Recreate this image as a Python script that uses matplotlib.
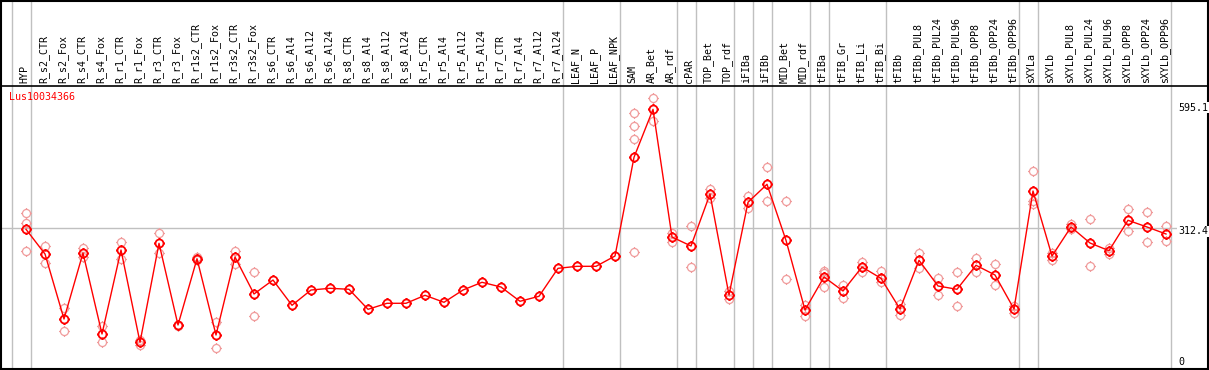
from matplotlib import pyplot as plt
from matplotlib.path import Path

title = "Lus10034366"

labels = ["HYP", "R_s2_CTR", "R_s2_Fox", "R_s4_CTR", "R_s4_Fox", "R_r1_CTR", "R_r1_Fox",
          "R_r3_CTR", "R_r3_Fox", "R_r1s2_CTR", "R_r1s2_Fox", "R_r3s2_CTR", "R_r3s2_Fox",
          "R_s6_CTR", "R_s6_Al4", "R_s6_Al12", "R_s6_Al24", "R_s8_CTR", "R_s8_Al4",
          "R_s8_Al12", "R_s8_Al24", "R_r5_CTR", "R_r5_Al4", "R_r5_Al12", "R_r5_Al24",
          "R_r7_CTR", "R_r7_Al4", "R_r7_Al12", "R_r7_Al24", "LEAF_N", "LEAF_P", "LEAF_NPK",
          "SAM", "AR_Bet", "AR_rdf", "cPAR", "TOP_Bet", "TOP_rdf", "iFIBa", "iFIBb",
          "MID_Bet", "MID_rdf", "tFIBa", "tFIB_Gr", "tFIB_Li", "tFIB_Bi", "tFIBb",
          "tFIBb_PUL8", "tFIBb_PUL24", "tFIBb_PUL96", "tFIBb_OPP8", "tFIBb_OPP24",
          "tFIBb_OPP96", "sXYLa", "sXYLb", "sXYLb_PUL8", "sXYLb_PUL24", "sXYLb_PUL96",
          "sXYLb_OPP8", "sXYLb_OPP24", "sXYLb_OPP96"]

# mean expression per sample
means = [310.1, 252.2, 100.0, 254.6, 64.9, 261.6, 45.4, 277.3, 86.0, 241.2, 62.5, 245.2, 158.6,
         191.3, 132.1, 167.9, 171.9, 169.6, 122.7, 136.8, 136.8, 155.5, 139.1, 167.9, 186.0,
         174.9, 141.5, 153.2, 218.7, 223.4, 223.4, 247.5,
         478.7, 591.1, 292.0, 271.0, 392.8, 156.2, 373.3, 415.5, 284.3, 121.1,
         198.4, 165.6, 221.8, 195.3, 123.4, 237.5, 177.3, 169.6, 225.8, 203.1, 123.4,
         399.8, 247.5, 315.5, 278.0, 260.0, 331.2, 315.5, 299.1]

# replicate values per sample
reps = [[347.6, 324.1, 259.3], [271.0, 230.5], [126.5, 71.9], [267.0, 244.5], [84.3, 45.4],
        [280.3, 241.2], [50.8, 39.1], [300.7, 255.3], [87.1, 83.6], [245.2, 238.2],
        [93.0, 31.4], [259.3, 228.8], [209.4, 107.0],
        [], [], [], [], [], [], [], [], [], [], [], [], [], [], [], [], [], [], [],
        [581.8, 551.3, 520.9, 256.2], [616.9, 564.4], [302.1, 279.6], [317.8, 221.8],
        [403.8, 382.7], [165.6, 146.1], [388.8, 359.3], [455.3, 377.1], [375.7, 193.0],
        [132.8, 107.7], [212.4, 208.4, 174.9], [179.6, 149.9], [234.2, 209.4],
        [211.7, 186.7], [135.8, 108.7], [254.6, 218.7], [195.3, 156.2], [209.4, 129.7],
        [242.9, 209.4], [228.8, 179.6], [131.2, 113.4], [446.6, 377.1, 369.3],
        [255.3, 238.2], [321.8, 310.1], [334.2, 223.4], [267.0, 251.5], [357.6, 305.4],
        [350.6, 279.6], [317.8, 282.0]]

group_sizes = [1, 28, 3, 3, 1, 2, 1, 1, 2, 1, 3, 7, 1, 7]
ref_ticks = [595.1, 312.4, 0]

mono = "DejaVu Sans Mono"
grey = "#c0c0c0"

# circle marker with small tick stubs
stub = 1.35
circ = Path.unit_circle()
stubs = Path([(0, 1), (0, stub), (0, -1), (0, -stub), (1, 0), (stub, 0), (-1, 0), (-stub, 0)],
             [Path.MOVETO, Path.LINETO] * 4)
marker = Path.make_compound_path(circ, stubs)

fig = plt.figure(figsize=(12.09, 3.70), dpi=100)
ax = fig.add_axes([1 / 1209, 1 / 370, 1207 / 1209, 368 / 370])
ax.set_xlim(-25 / 19, -25 / 19 + 1207 / 19)
ax.set_ylim(-17.1, 844.8)
ax.set_xticks([])
ax.set_yticks([])
for s in ax.spines.values():
    s.set_linewidth(1.5)
    s.set_color("black")

# group separators
b = -1
ax.axvline(b + 0.25, color=grey, lw=1, zorder=1)
for g in group_sizes:
    b += g
    ax.axvline(b + 0.25, color=grey, lw=1, zorder=1)

ax.axhline(312.4, color=grey, lw=1, zorder=1)
ax.axhline(646.4, color="black", lw=1.2, zorder=1)

xs = list(range(len(labels)))
for i, r in enumerate(reps):
    if r:
        ax.plot([i] * len(r), r, linestyle="none", marker=marker, markersize=7.8,
                markerfacecolor="none", markeredgecolor="#f09c9c", markeredgewidth=0.9, zorder=2)

ax.plot(xs, means, color="red", lw=1, zorder=3)
ax.plot(xs, means, linestyle="none", marker=marker, markersize=7.8, markerfacecolor="none",
        markeredgecolor="red", markeredgewidth=1.3, zorder=4)

for i, lab in enumerate(labels):
    ax.text(i - 0.08, 652.7, lab, rotation=90, ha="center", va="bottom",
            family=mono, fontsize=7.2, color="black")

ax.text(-0.9, 619.9, title, ha="left", va="center", family=mono, fontsize=7.2, color="red")

for t in ref_ticks:
    ax.annotate(f"{t:g}", (60.63, t), xytext=(0, -3 if t == 312.4 else 0),
                textcoords="offset pixels", ha="left", va="center", family=mono,
                fontsize=7.2, color="black",
                bbox=dict(fc="white", ec="none", pad=0.5))

fig.savefig("out.png", dpi=100)
